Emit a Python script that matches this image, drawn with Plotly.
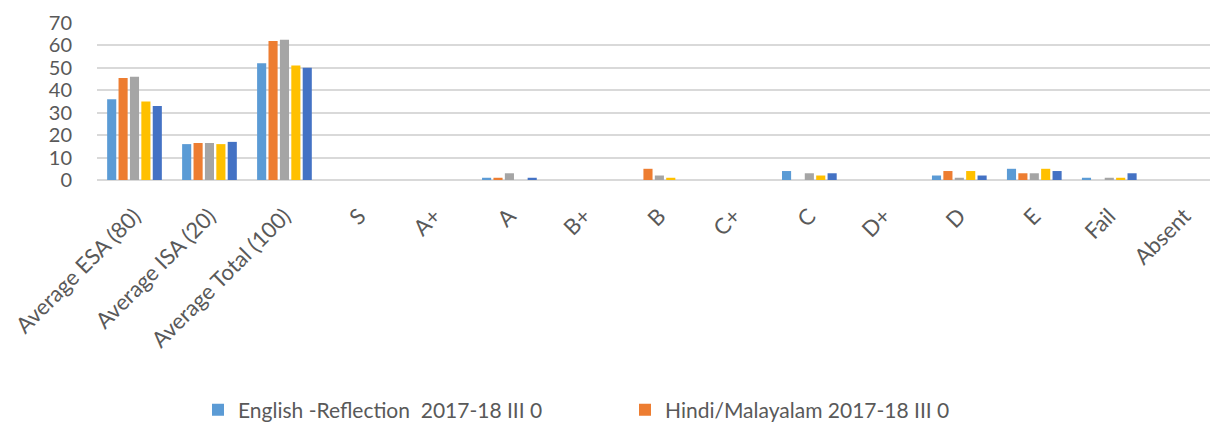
import plotly.graph_objects as go

categories = ["Average ESA (80)", "Average ISA (20)", "Average Total (100)", "S", "A+", "A",
              "B+", "B", "C+", "C", "D+", "D", "E", "Fail", "Absent"]

series_names = ["English -Reflection  2017-18 III 0", "Hindi/Malayalam 2017-18 III 0",
                "Series 3", "Series 4", "Series 5"]

s1 = [36, 16, 52, 0, 0, 1, 0, 0, 0, 4, 0, 2, 5, 1, 0]
s2 = [45.5, 16.5, 62, 0, 0, 1, 0, 5, 0, 0, 0, 4, 3, 0, 0]
s3 = [46, 16.5, 62.5, 0, 0, 3, 0, 2, 0, 3, 0, 1, 3, 1, 0]
s4 = [35, 16, 51, 0, 0, 0, 0, 1, 0, 2, 0, 4, 5, 1, 0]
s5 = [33, 17, 50, 0, 0, 1, 0, 0, 0, 3, 0, 2, 4, 3, 0]

colors = ["#5B9BD5", "#ED7D31", "#A5A5A5", "#FFC000", "#4472C4"]
values = [s1, s2, s3, s4, s5]
show_in_legend = [True, True, False, False, False]
legend_ids = ["legend", "legend2", "legend", "legend", "legend"]

fig = go.Figure()
for name, vals, col, show, lg in zip(series_names, values, colors, show_in_legend, legend_ids):
    fig.add_trace(go.Bar(x=categories, y=vals, name=name, showlegend=show, legend=lg,
                         marker=dict(color=col, line=dict(width=0))))

# page body has an 8px margin, so the figure sits at (8, 8) in the window
W, H = 1210, 418
ml, mr, mt, mb = 89, 0, 15, 246
ph = H - mt - mb
pw = W - ml - mr

leg_font = dict(size=21, color="#595959", family="Lato, Open Sans, sans-serif")
leg_y = -(402 - (mt + ph)) / ph

fig.update_layout(
    width=W, height=H,
    margin=dict(l=ml, r=mr, t=mt, b=mb, pad=0, autoexpand=False),
    paper_bgcolor="white", plot_bgcolor="white",
    barmode="group", bargap=0.24, bargroupgap=0.2,
    font=dict(family="Lato, Open Sans, sans-serif", color="#595959"),
    xaxis=dict(range=[-0.5, 14.45], tickangle=-45, tickfont=dict(size=22, color="#595959"),
               showgrid=False, showline=False, ticks="", automargin=False,
               ticklabelstandoff=18),
    yaxis=dict(range=[0, 70], dtick=10, tickfont=dict(size=20, color="#595959"),
               gridcolor="#D9D9D9", gridwidth=1.5, zeroline=True, zerolinecolor="#D9D9D9",
               zerolinewidth=1.5, ticks="", ticklabelstandoff=24, automargin=False),
    legend=dict(orientation="h", x=(190 - ml) / pw, xanchor="left",
                y=leg_y, yanchor="middle", font=leg_font, itemwidth=30),
    legend2=dict(orientation="h", x=(617 - ml) / pw, xanchor="left",
                 y=leg_y, yanchor="middle", font=leg_font, itemwidth=30),
)

fig.write_html("out.html")
